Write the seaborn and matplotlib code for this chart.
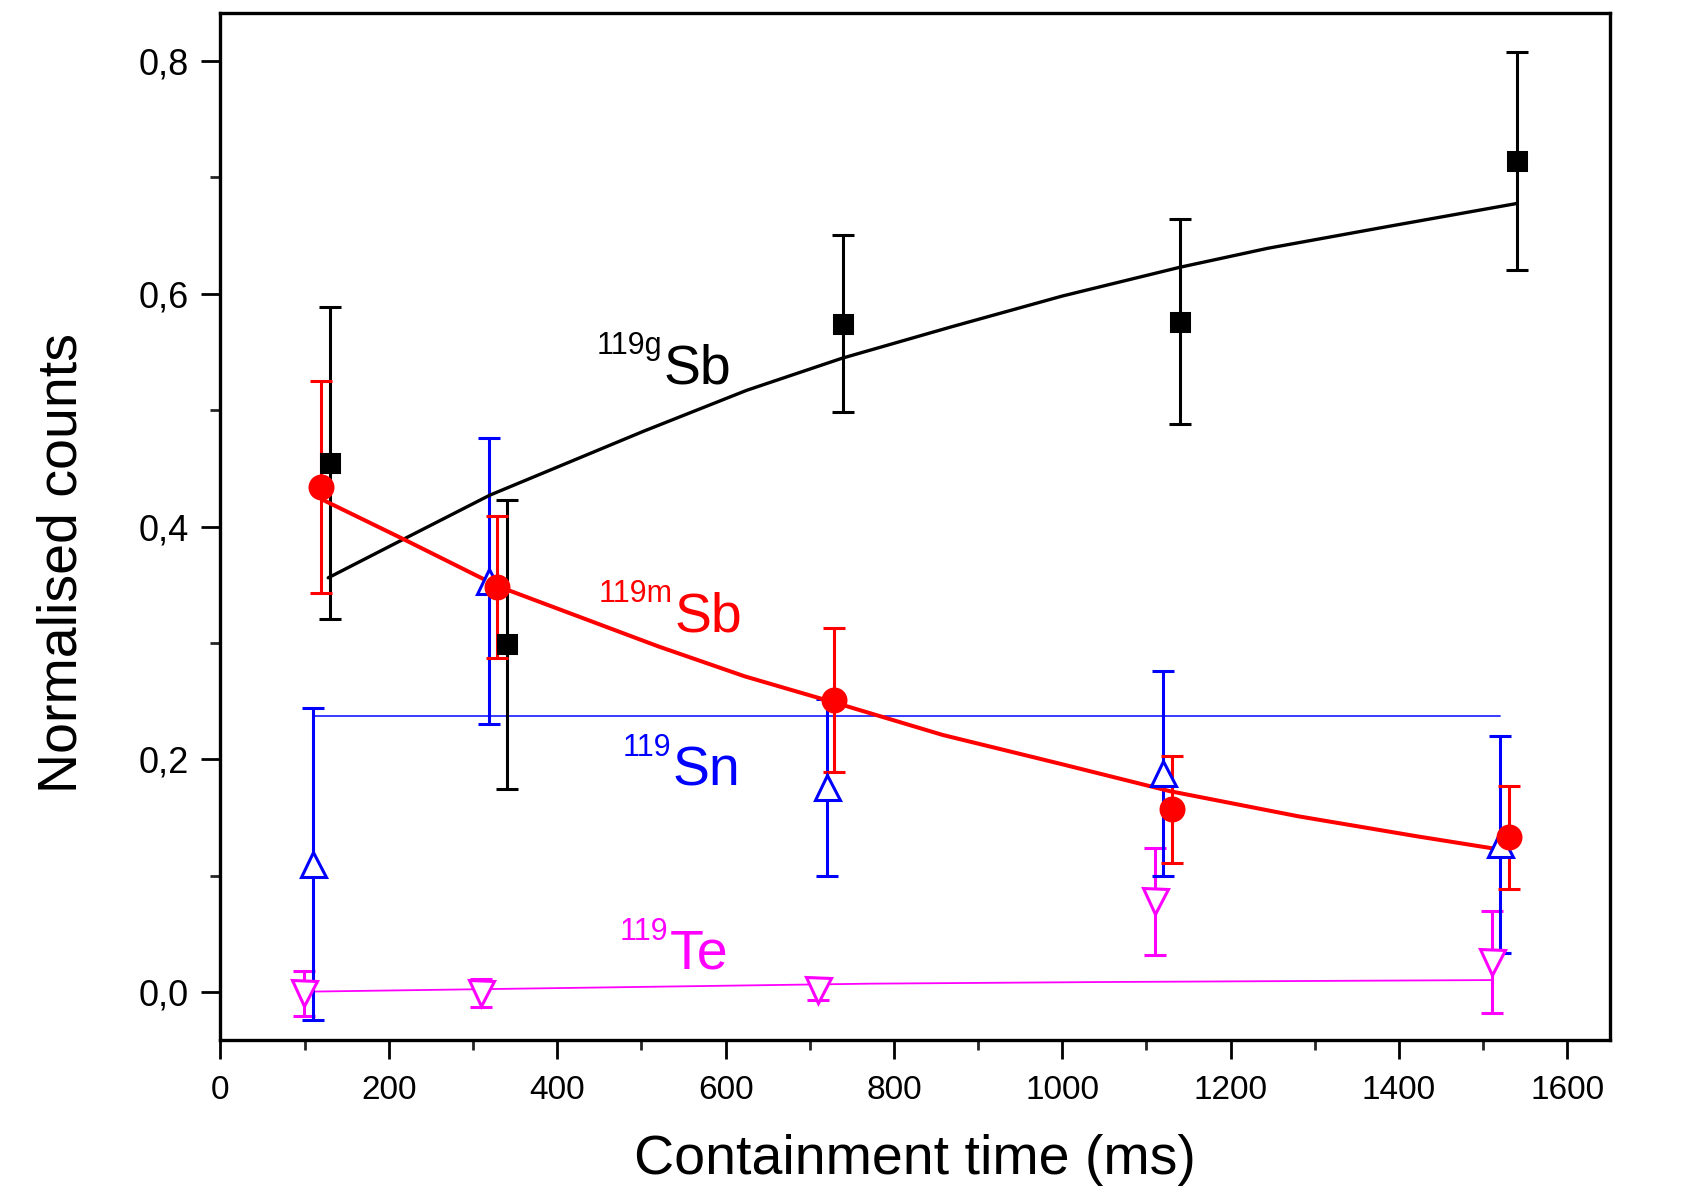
import pandas as pd
import seaborn as sns
import matplotlib.pyplot as plt
from matplotlib.ticker import MultipleLocator, FuncFormatter

# --- CONFIGURATION ---
sns.set_theme(style="ticks")
plt.rcParams['font.family'] = ['Liberation Sans', 'DejaVu Sans']

# --- DATA ---
# 119gSb - black squares + ingrowth fit
t_g = [130, 340, 739, 1140, 1540]
n_g = [0.455, 0.299, 0.574, 0.576, 0.714]
e_g = [0.134, 0.124, 0.076, 0.088, 0.094]
fit_g_t = [128, 217, 320, 503, 625, 738, 869, 1000, 1139, 1244, 1385, 1540]
fit_g_n = [0.356, 0.389, 0.427, 0.482, 0.517, 0.5445, 0.5717, 0.598, 0.6226,
           0.639, 0.6575, 0.6775]

# 119mSb - red circles + decay fit
t_m = [119, 329, 729, 1130, 1531]
n_m = [0.434, 0.348, 0.251, 0.157, 0.133]
e_m = [0.091, 0.061, 0.062, 0.046, 0.044]
fit_m_t = [120, 219, 330, 520, 623, 731, 858, 999, 1128, 1280, 1421, 1520]
fit_m_n = [0.4235, 0.3886, 0.3486, 0.2971, 0.2713, 0.2485, 0.221, 0.196,
           0.1727, 0.1512, 0.134, 0.1226]

# 119Sn - blue open triangles + constant
t_sn = [110, 319, 721, 1120, 1520]
n_sn = [0.110, 0.353, 0.176, 0.188, 0.127]
e_sn = [0.134, 0.123, 0.076, 0.088, 0.093]
fit_sn_t = [110, 1520]
fit_sn_n = [0.237, 0.237]

# 119Te - magenta open down-triangles + fit
t_te = [99, 309, 710, 1110, 1511]
n_te = [-0.001, -0.001, 0.002, 0.078, 0.026]
e_te = [0.019, 0.012, 0.009, 0.046, 0.044]
fit_te_t = [99, 771, 1045, 1510]
fit_te_n = [0.0005, 0.0074, 0.0088, 0.0105]

X_TICKS = [0, 200, 400, 600, 800, 1000, 1200, 1400, 1600]
Y_TICKS = [0.0, 0.2, 0.4, 0.6, 0.8]


def fit_line(ax, t, n, color, lw):
    df = pd.DataFrame({'t': t, 'n': n})
    sns.lineplot(data=df, x='t', y='n', color=color, linewidth=lw,
                 estimator=None, sort=False, ax=ax)


def points(ax, t, n, e, color, marker, ms, open_marker=False):
    ax.errorbar(t, n, yerr=e, fmt=marker, color=color, ms=ms,
                mfc='white' if open_marker else color, mec=color, mew=2.2,
                elinewidth=2.2, capsize=8, capthick=2.2)


def iso_label(ax, x, y, sup, main, color):
    ax.text(x, y, main, color=color, fontsize=40, ha='left', va='baseline')
    ax.annotate(sup, xy=(x, y), xytext=(-1, 21), textcoords='offset points',
                color=color, fontsize=22, ha='right', va='baseline')


fig = plt.figure(figsize=(16.96, 11.92), dpi=100)
ax = fig.add_axes([0.130, 0.1275, 0.819, 0.8615])

# magenta first, blue bars run over it
fit_line(ax, fit_te_t, fit_te_n, '#ff00ff', 1.3)
points(ax, t_te, n_te, e_te, '#ff00ff', 'v', 18, open_marker=True)

fit_line(ax, fit_sn_t, fit_sn_n, '#2a2aff', 1.3)
points(ax, t_sn, n_sn, e_sn, '#0000ff', '^', 18, open_marker=True)

fit_line(ax, fit_g_t, fit_g_n, 'black', 2.4)
points(ax, t_g, n_g, e_g, 'black', 's', 13)

fit_line(ax, fit_m_t, fit_m_n, '#ff0000', 2.9)
points(ax, t_m, n_m, e_m, '#ff0000', 'o', 16.5)

iso_label(ax, 526, 0.523, '119g', 'Sb', 'black')
iso_label(ax, 539, 0.310, '119m', 'Sb', '#ff0000')
iso_label(ax, 537, 0.178, '119', 'Sn', '#0000ff')
iso_label(ax, 534, 0.020, '119', 'Te', '#ff00ff')

# Axes formatting
ax.set_xlim(0, 1650)
ax.set_ylim(-0.041, 0.841)
ax.set_xticks(X_TICKS)
ax.set_yticks(Y_TICKS)
ax.xaxis.set_minor_locator(MultipleLocator(100))
ax.yaxis.set_minor_locator(MultipleLocator(0.1))
ax.yaxis.set_major_formatter(FuncFormatter(lambda v, p: f"{v:.1f}".replace('.', ',')))
ax.tick_params(which='major', direction='out', length=14, width=2,
               colors='black', top=False, right=False)
ax.tick_params(which='minor', direction='out', length=7.5, width=2,
               top=False, right=False)
ax.tick_params(axis='x', which='major', labelsize=24, pad=11)
ax.tick_params(axis='y', which='major', labelsize=26, pad=9)
for sp in ax.spines.values():
    sp.set_visible(True)
    sp.set_linewidth(2.4)
    sp.set_color('black')

ax.set_xlabel('Containment time (ms)', fontsize=40, labelpad=20, color='black')
ax.set_ylabel('Normalised counts', fontsize=40, labelpad=36, color='black', y=0.465)

plt.savefig('out.png', dpi=100)
plt.close()
